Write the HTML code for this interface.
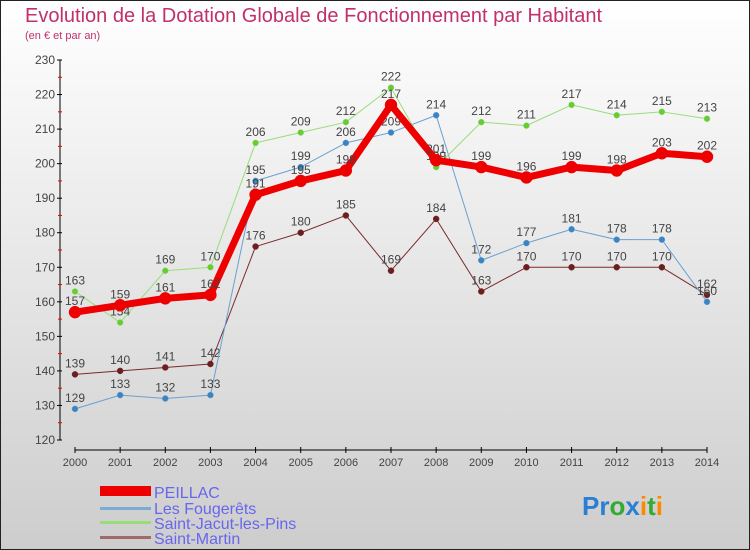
<!DOCTYPE html>
<html><head><meta charset="utf-8"><style>
body{margin:0;}
#c{width:750px;height:550px;position:relative;overflow:hidden;font-family:"Liberation Sans",sans-serif;}
</style></head><body>
<div id="c">
<svg id="s" width="750" height="550" xmlns="http://www.w3.org/2000/svg">
<defs><linearGradient id="bg" x1="0" y1="0" x2="0" y2="1"><stop offset="0" stop-color="#ffffff"/><stop offset="1" stop-color="#cdcdcd"/></linearGradient></defs>
<rect x="0.5" y="0.5" width="749" height="549" fill="url(#bg)" stroke="#222"/>
<text x="25" y="22" font-size="20" fill="#c0306a">Evolution de la Dotation Globale de Fonctionnement par Habitant</text>
<text x="25" y="39" font-size="11" fill="#c0306a">(en € et par an)</text>
<g id="axes"></g><g id="series"></g>
<g>
<rect x="100" y="486" width="51" height="10" fill="#e00"/>
<text x="154" y="498" font-size="16" fill="#6666ee">PEILLAC</text>
<rect x="100" y="507" width="51" height="3" fill="#7aaad6"/>
<text x="154" y="514" font-size="16" fill="#6666ee">Les Fougerêts</text>
<rect x="100" y="521" width="51" height="3" fill="#99dd77"/>
<text x="154" y="529" font-size="16" fill="#6666ee">Saint-Jacut-les-Pins</text>
<rect x="100" y="536" width="51" height="3" fill="#a06a6a"/>
<text x="154" y="544" font-size="16" fill="#6666ee">Saint-Martin</text>
</g>
<text x="582" y="515" font-size="26" font-weight="bold"><tspan fill="#2a7fd4">Pr</tspan><tspan fill="#33aa33">o</tspan><tspan fill="#2a7fd4">x</tspan><tspan fill="#ff8800">i</tspan><tspan fill="#33aa33">t</tspan><tspan fill="#ff8800">i</tspan></text>
</svg>
</div>
<script>
const years=[2000,2001,2002,2003,2004,2005,2006,2007,2008,2009,2010,2011,2012,2013,2014];
const peillac=[157,159,161,162,191,195,198,217,201,199,196,199,198,203,202];
const fougerets=[129,133,132,133,195,199,206,209,214,172,177,181,178,178,160];
const saintJacut=[163,154,169,170,206,209,212,222,199,212,211,217,214,215,213];
const saintMartin=[139,140,141,142,176,180,185,169,184,163,170,170,170,170,162];
const yTicks=[120,130,140,150,160,170,180,190,200,210,220,230];
const NS="http://www.w3.org/2000/svg";
function X(i){return 75+i*(707-75)/(years.length-1);}
function Y(v){return 440-(v-120)*(380/110);}
function mk(t,a,p){const e=document.createElementNS(NS,t);for(const k in a)e.setAttribute(k,a[k]);p.appendChild(e);return e;}
const ax=document.getElementById('axes');
let l=mk('line',{x1:60,y1:60,x2:60,y2:440,stroke:'#000'},ax);


yTicks.forEach(v=>{
 mk('line',{x1:57,y1:Y(v),x2:62,y2:Y(v),stroke:'#000'},ax);
 if(v<230) mk('line',{x1:58,y1:Y(v+5),x2:62,y2:Y(v+5),stroke:'#e00'},ax);
 const t=mk('text',{x:55,y:Y(v)+4,'font-size':12,fill:'#444','text-anchor':'end'},ax);t.textContent=v;
 
 
});
l=mk('line',{x1:75,y1:450,x2:707,y2:450,stroke:'#000'},ax);


years.forEach((y,i)=>{
 mk('line',{x1:X(i),y1:447,x2:X(i),y2:453,stroke:'#000'},ax);
 const t=mk('text',{x:X(i),y:466,'font-size':11,fill:'#444','text-anchor':'middle'},ax);t.textContent=y;
 
 
});
const sg=document.getElementById('series');
function draw(data,name,col,dot,w,r){
 const g=mk('g',{},sg);
 
 
 mk('polyline',{points:data.map((v,i)=>X(i)+','+Y(v)).join(' '),fill:'none',stroke:col,'stroke-width':w,'stroke-linejoin':'round'},g);
 data.forEach((v,i)=>{
  const c=mk('circle',{cx:X(i),cy:Y(v),r:r,fill:dot,stroke:col,'stroke-width':0.5},g);
  
  
  const t=mk('text',{x:X(i),y:Y(v)-7,'font-size':12,fill:'#444','text-anchor':'middle'},g);t.textContent=v;
  
  
 });
}
draw(saintMartin,'saint-martin','#7a2a2a','#6b1f1f',1,3);
draw(fougerets,'fougerets','#6aa0d0','#3a84c4',1,3);
draw(saintJacut,'saint-jacut','#99dd77','#66cc33',1,3);
draw(peillac,'peillac','#ee0000','#ee0000',7,6);
</script>
</body></html>
